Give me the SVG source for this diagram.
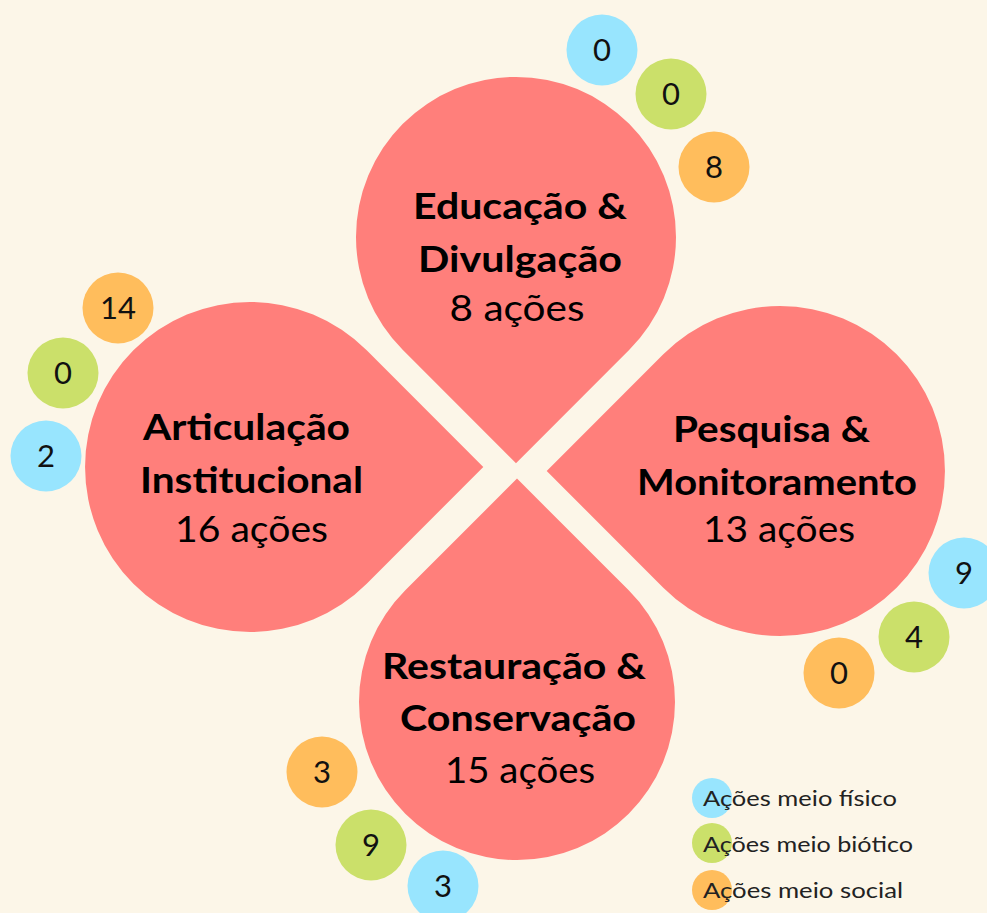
<svg xmlns="http://www.w3.org/2000/svg" width="987" height="913" viewBox="0 0 987 913">
<style>
.drop{fill:#FF7F7B}
.b{fill:#98E5FE}.g{fill:#CBE06A}.o{fill:#FFBD5C}
.t{font-family:Lato,"Liberation Sans",sans-serif;font-weight:700;font-size:37px;fill:#000;text-anchor:middle}
.c{font-family:Lato,"Liberation Sans",sans-serif;font-weight:400;font-size:37px;fill:#000;text-anchor:middle}
.n{font-family:Lato,"Liberation Sans",sans-serif;font-weight:400;font-size:31px;fill:#111;text-anchor:middle}
.l{font-family:Lato,"Liberation Sans",sans-serif;font-weight:400;font-size:22px;fill:#222}
</style>
<rect width="987" height="913" fill="#FCF6E8"/>
<g id="educacao">
<path class="drop" d="M516,463.3 L402.9,350.1 A160,160 0 1 1 629.1,350.1 Z"/>
<text class="t" x="520" y="219" textLength="214" lengthAdjust="spacingAndGlyphs">Educação &amp;</text>
<text class="t" x="520" y="272" textLength="204" lengthAdjust="spacingAndGlyphs">Divulgação</text>
<text class="c" x="517" y="321" textLength="135" lengthAdjust="spacingAndGlyphs">8 ações</text>
</g>
<g id="articulacao">
<path class="drop" d="M483.3,467 L366.7,583.7 A165,165 0 1 1 366.7,350.3 Z"/>
<text class="t" x="246.5" y="440" textLength="207" lengthAdjust="spacingAndGlyphs">Articulação</text>
<text class="t" x="251.5" y="493" textLength="223" lengthAdjust="spacingAndGlyphs">Institucional</text>
<text class="c" x="251.5" y="542" textLength="153" lengthAdjust="spacingAndGlyphs">16 ações</text>
</g>
<g id="pesquisa">
<path class="drop" d="M546.7,471 L663.3,354.3 A165,165 0 1 1 663.3,587.7 Z"/>
<text class="t" x="771.5" y="442" textLength="197" lengthAdjust="spacingAndGlyphs">Pesquisa &amp;</text>
<text class="t" x="777" y="495" textLength="280" lengthAdjust="spacingAndGlyphs">Monitoramento</text>
<text class="c" x="779" y="542" textLength="152" lengthAdjust="spacingAndGlyphs">13 ações</text>
</g>
<g id="restauracao">
<path class="drop" d="M517,478.6 L628.7,590.3 A158,158 0 1 1 405.3,590.3 Z"/>
<text class="t" x="514" y="679" textLength="264" lengthAdjust="spacingAndGlyphs">Restauração &amp;</text>
<text class="t" x="518" y="731" textLength="236" lengthAdjust="spacingAndGlyphs">Conservação</text>
<text class="c" x="520" y="783" textLength="150" lengthAdjust="spacingAndGlyphs">15 ações</text>
</g>
<g id="counts-educacao">
<circle class="b" cx="602" cy="50" r="35.5"/><text class="n" x="602" y="61">0</text>
<circle class="g" cx="671" cy="94" r="35.5"/><text class="n" x="671" y="105">0</text>
<circle class="o" cx="714" cy="167" r="35.5"/><text class="n" x="714" y="178">8</text>
</g>
<g id="counts-articulacao">
<circle class="o" cx="118" cy="308" r="35.5"/><text class="n" x="118" y="319">14</text>
<circle class="g" cx="63" cy="373" r="35.5"/><text class="n" x="63" y="384">0</text>
<circle class="b" cx="46" cy="456" r="35.5"/><text class="n" x="46" y="467">2</text>
</g>
<g id="counts-pesquisa">
<circle class="b" cx="964" cy="573" r="35.5"/><text class="n" x="964" y="584">9</text>
<circle class="g" cx="914" cy="637" r="35.5"/><text class="n" x="914" y="648">4</text>
<circle class="o" cx="839" cy="673" r="35.5"/><text class="n" x="839" y="684">0</text>
</g>
<g id="counts-restauracao">
<circle class="o" cx="322" cy="772" r="35.5"/><text class="n" x="322" y="783">3</text>
<circle class="g" cx="371" cy="845" r="35.5"/><text class="n" x="371" y="856">9</text>
<circle class="b" cx="443" cy="886" r="35.5"/><text class="n" x="443" y="897">3</text>
</g>
<g id="legend">
<circle class="b" cx="712" cy="798" r="20"/>
<circle class="g" cx="712" cy="843" r="20"/>
<circle class="o" cx="712" cy="890" r="20"/>
<text class="l" x="703" y="806" textLength="194" lengthAdjust="spacingAndGlyphs">Ações meio físico</text>
<text class="l" x="703" y="852" textLength="210" lengthAdjust="spacingAndGlyphs">Ações meio biótico</text>
<text class="l" x="703" y="898" textLength="200" lengthAdjust="spacingAndGlyphs">Ações meio social</text>
</g>
</svg>
